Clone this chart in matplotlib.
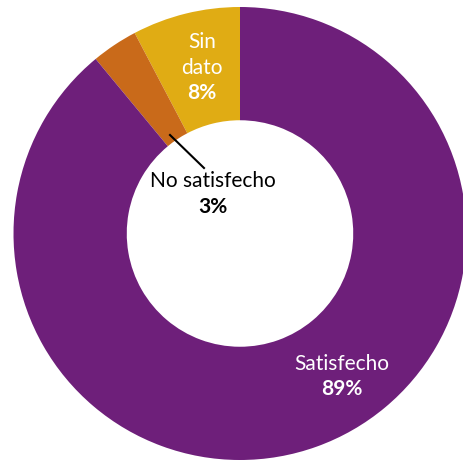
import matplotlib
matplotlib.use("Agg")
import matplotlib.pyplot as plt

categories = ["Sin dato", "No satisfecho", "Satisfecho"]
values = [7.7, 3.3, 89.0]
colors = ["#E0AC14", "#C96A1A", "#6E1F7A"]

plt.rcParams['font.family'] = ['Lato', 'DejaVu Sans']

W, H = 464, 461
fig = plt.figure(figsize=(W / 100, H / 100), dpi=100)
ax = fig.add_axes([0, 0, 1, 1])
cx, cy, R = 240, 233.5, 226.5

def px(x, y):
    return ((x - cx) / R, (cy - y) / R)

ax.pie(values, colors=colors, startangle=90, counterclock=True, radius=1.0,
       wedgeprops=dict(width=0.5, edgecolor='none'))
ax.set_xlim((0 - cx) / R, (W - cx) / R)
ax.set_ylim((cy - H) / R, cy / R)
ax.set_aspect('auto')
ax.axis('off')

fs = 15
pct = [f"{v:.0f}%" for v in values]

# Sin dato
ax.text(*px(202, 42), "Sin", color="white", fontsize=fs, ha='center', va='center')
ax.text(*px(202, 68), "dato", color="white", fontsize=fs, ha='center', va='center')
ax.text(*px(202, 93), pct[0], color="white", fontsize=fs, fontweight='bold', ha='center', va='center')

# No satisfecho
ax.text(*px(213, 181), categories[1], color="black", fontsize=fs, ha='center', va='center')
ax.text(*px(213, 207), pct[1], color="black", fontsize=fs, fontweight='bold', ha='center', va='center')
x0, y0 = px(170, 135)
x1, y1 = px(204, 168)
ax.plot([x0, x1], [y0, y1], color="black", lw=1.5)

# Satisfecho
ax.text(*px(342, 364), categories[2], color="white", fontsize=fs, ha='center', va='center')
ax.text(*px(342, 389), pct[2], color="white", fontsize=fs, fontweight='bold', ha='center', va='center')

fig.savefig("out.png", dpi=100)
